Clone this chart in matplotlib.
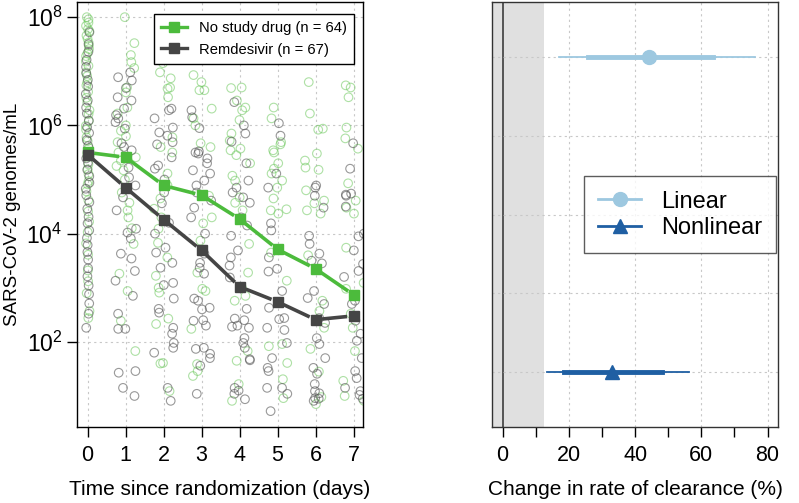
import matplotlib
matplotlib.use("Agg")
import matplotlib.pyplot as plt
from matplotlib.lines import Line2D
import numpy as np
import pandas as pd
import seaborn as sns

plt.rcParams['font.family'] = ['Liberation Sans', 'DejaVu Sans']
plt.rcParams['mathtext.fontset'] = 'custom'
plt.rcParams['mathtext.rm'] = 'Liberation Sans'

# ---- left panel: viral load (log10 genomes/mL) per day
days = [0, 1, 2, 3, 4, 5, 6, 7]

nodrug_pts = {
    0: [8.0, 7.96, 7.9, 7.84, 7.78, 7.74, 7.66, 7.6, 7.53, 7.47, 7.41, 7.33, 7.28, 7.18,
        7.1, 6.98, 6.91, 6.8, 6.74, 6.62, 6.51, 6.42, 6.28, 6.21, 6.08, 5.99, 5.92, 5.78,
        5.71, 5.58, 5.49, 5.42, 5.28, 5.19, 5.1, 4.97, 4.91, 4.78, 4.62, 4.41, 4.22, 4.03,
        3.82, 3.61, 3.32, 3.12, 2.9, 2.57, 2.44],
    1: [8.0, 7.52, 7.3, 7.17, 7.06, 6.70, 6.61, 6.33, 6.22, 6.0, 5.9, 5.8, 5.69, 5.5,
        5.41, 5.35, 5.25, 5.17, 5.0, 4.76, 4.57, 4.43, 4.3, 4.1, 3.81, 3.26, 2.94, 2.39,
        1.83],
    2: [7.15, 6.98, 6.87, 6.70, 6.68, 6.52, 5.78, 5.6, 5.5, 5.11, 4.89, 4.65, 4.46, 4.30,
        4.09, 3.83, 3.56, 3.22, 3.0, 2.91, 2.43, 2.33, 1.61, 1.6, 1.09],
    3: [6.93, 6.80, 6.65, 6.65, 6.31, 6.13, 6.0, 5.67, 5.6, 4.7, 4.19, 4.3, 3.87, 3.28,
        2.98, 2.94, 2.24, 1.59, 1.46, 1.37],
    4: [6.69, 6.7, 6.46, 6.33, 6.28, 6.1, 5.85, 5.72, 5.57, 5.54, 5.45, 5.3, 5.07, 4.98,
        4.67, 4.57, 4.43, 3.81, 3.28, 3.0, 2.85, 2.76, 1.83, 1.65, 1.22, 0.91],
    5: [6.33, 6.13, 5.69, 5.65, 5.54, 5.5, 5.30, 5.2, 5.11, 4.98, 4.85, 4.65, 4.43, 4.45,
        4.37, 3.65, 3.13, 1.96, 1.92, 1.61, 1.31, 0.96],
    6: [6.80, 6.22, 5.94, 5.92, 5.48, 5.35, 5.22, 5.18, 4.80, 4.61, 4.56, 4.43, 4.37, 3.6,
        2.76, 2.57, 2.26, 1.87, 1.45, 0.98, 0.85],
    7: [6.74, 6.7, 6.52, 5.96, 5.76, 5.57, 4.93, 4.61, 4.48, 4.37, 3.74, 3.09, 2.98, 2.52,
        2.26, 1.83, 1.28, 1.0, 0.91],
}

remdesivir_pts = {
    0: [7.72, 7.5, 7.36, 7.21, 7.08, 6.96, 6.84, 6.72, 6.58, 6.46, 6.33, 6.22, 6.09, 5.97,
        5.86, 5.73, 5.62, 5.51, 5.39, 5.31, 5.18, 5.06, 4.94, 4.83, 4.71, 4.58, 4.46, 4.31,
        4.19, 4.06, 3.92, 3.79, 3.66, 3.52, 3.36, 3.21, 3.04, 2.88, 2.71, 2.52, 2.26],
    1: [6.98, 6.89, 6.83, 6.69, 6.52, 6.46, 6.31, 6.19, 6.13, 6.06, 5.94, 5.67, 5.6, 5.54,
        5.22, 5.04, 4.89, 4.67, 4.43, 4.09, 4.02, 3.91, 3.63, 3.54, 3.31, 3.13, 2.85, 2.52,
        2.24, 2.24, 1.46, 1.43, 1.15, 1.0],
    2: [7.8, 6.31, 6.28, 6.13, 5.96, 5.87, 5.81, 5.69, 5.65, 5.41, 5.26, 5.2, 5.0, 4.76,
        4.56, 4.20, 4.0, 3.74, 3.65, 3.46, 3.37, 3.09, 3.05, 2.8, 2.61, 2.54, 2.26, 2.15,
        1.98, 1.89, 1.80, 1.15, 0.91],
    3: [6.28, 6.15, 5.95, 5.5, 5.52, 5.48, 5.39, 5.30, 5.17, 5.11, 4.98, 4.89, 4.76, 4.61,
        4.48, 4.30, 4.0, 3.63, 3.46, 3.26, 3.37, 2.76, 2.8, 2.63, 2.6, 2.39, 2.4, 2.30,
        1.89, 1.87, 1.78, 1.70, 1.56, 1.04],
    4: [6.43, 6.0, 5.85, 5.7, 5.3, 4.98, 4.85, 4.76, 4.67, 4.57, 4.30, 4.15, 3.96, 3.69,
        3.56, 3.41, 3.19, 2.61, 2.43, 2.4, 2.30, 2.28, 2.26, 2.07, 1.98, 1.89, 1.68, 1.66,
        1.15, 1.04, 0.94, 1.1],
    5: [6.04, 5.81, 5.11, 4.85, 4.19, 4.06, 3.56, 3.35, 3.3, 2.94, 2.63, 2.44, 2.42, 2.26,
        2.22, 1.98, 1.70, 1.52, 1.46, 1.15, 1.15, 1.04, 0.72],
    6: [4.89, 4.85, 4.70, 4.48, 3.96, 3.81, 3.63, 3.50, 3.45, 2.94, 2.81, 2.70, 2.44, 2.35,
        2.07, 1.96, 1.70, 1.52, 1.41, 1.22, 1.09, 0.96, 0.91, 0.95, 1.05],
    7: [5.67, 5.2, 4.74, 4.72, 4.7, 4.5, 4.0, 3.95, 3.69, 3.44, 3.31, 3.2, 2.76, 2.7, 2.39,
        2.15, 2.02, 1.70, 1.46, 1.33, 1.15, 1.09, 1.02, 0.95],
}

nodrug_mean = [5.50, 5.41, 4.89, 4.71, 4.27, 3.71, 3.35, 2.87]
remdesivir_mean = [5.46, 4.85, 4.26, 3.69, 3.02, 2.74, 2.41, 2.48]

labels_left = ['No study drug (n = 64)', 'Remdesivir (n = 67)']

# ---- right panel: change in rate of clearance (%)
models = ['Linear', 'Nonlinear']
estimate = [44.1, 32.9]
ci_inner_lo = [25.8, 18.4]
ci_inner_hi = [63.5, 48.0]
ci_outer_lo = [17.0, 13.3]
ci_outer_hi = [76.3, 56.4]


def to_frame(pts):
    rows = [(d, 10 ** v) for d, vals in pts.items() for v in vals]
    return pd.DataFrame(rows, columns=['day', 'load'])


def gapped_line(ax, x, y, gap_px, **kw):
    # line segments that stop short of each point (like R's type = "b")
    tr = ax.transData
    inv = tr.inverted()
    for i in range(len(x) - 1):
        p0 = tr.transform((x[i], y[i]))
        p1 = tr.transform((x[i + 1], y[i + 1]))
        u = (p1 - p0) / np.hypot(*(p1 - p0))
        a = inv.transform(p0 + u * gap_px)
        b = inv.transform(p1 - u * gap_px)
        ax.plot([a[0], b[0]], [a[1], b[1]], solid_capstyle='butt', **kw)


green = '#4cbb3c'
green_pt = '#6cc85c'
grey = '#454545'
grey_pt = '#555555'
light_blue = '#9dc8e0'
dark_blue = '#1f5fa3'
grid_kw = dict(color='#c8c8c8', linestyle=(0, (2, 3)), linewidth=0.8)

fig = plt.figure(figsize=(7.99, 5.03), dpi=100)
ax1 = fig.add_axes([0.0964, 0.151, 0.358, 0.845])
ax2 = fig.add_axes([0.616, 0.151, 0.358, 0.845])

# ---------------- left panel
ax1.set_yscale('log')
for pts, col, alpha in [(nodrug_pts, green_pt, 0.55), (remdesivir_pts, grey_pt, 0.6)]:
    df = to_frame(pts)
    d0 = df[df['day'] == 0]
    rest = df[df['day'] != 0]
    for sub, jit in [(d0, 0.05), (rest, 0.28)]:
        sns.stripplot(data=sub, x='day', y='load', native_scale=True, jitter=jit,
                      ax=ax1, color=col, facecolor='none', edgecolor=col,
                      linewidth=0.8, size=6.2, alpha=alpha, zorder=2)

ax1.set_xlim(-0.28, 7.25)
ax1.set_ylim(10 ** 0.426, 10 ** 8.28)

for mean, col, z in [(nodrug_mean, green, 4), (remdesivir_mean, grey, 5)]:
    yv = 10 ** np.array(mean)
    gapped_line(ax1, days, yv, 6.5, color=col, lw=2.6, zorder=z)
    ax1.plot(days, yv, ls='none', color=col, marker='s', ms=6.5, zorder=z)

h1 = [Line2D([], [], color=c, lw=2.4, marker='s', ms=6.5) for c in (green, grey)]

ax1.set_xticks(days)
ax1.set_xticklabels([str(d) for d in days])
ax1.set_yticks([1e2, 1e4, 1e6, 1e8])
ax1.set_yticklabels([r'$10^2$', r'$10^4$', r'$10^6$', r'$10^8$'])
ax1.yaxis.set_minor_locator(matplotlib.ticker.NullLocator())
ax1.tick_params(axis='both', labelsize=15.5, length=7, width=1, direction='out')
ax1.tick_params(axis='y', labelsize=16.5)
ax1.tick_params(axis='x', pad=6)
ax1.grid(True, **grid_kw)
ax1.set_axisbelow(True)
ax1.set_xlabel('Time since randomization (days)', fontsize=15, labelpad=10)
ax1.set_ylabel('SARS-CoV-2 genomes/mL', fontsize=13.5, labelpad=4)
leg1 = ax1.legend(h1, labels_left, loc='upper right', bbox_to_anchor=(0.97, 0.972),
                  fontsize=10.6, frameon=True, fancybox=False, edgecolor='black',
                  borderaxespad=0, handlelength=1.8, handletextpad=0.8, borderpad=0.5)
leg1.get_frame().set_linewidth(1)
leg1.get_frame().set_alpha(1)
for s in ax1.spines.values():
    s.set_linewidth(1)

# ---------------- right panel
ypos = [5, 1]
ax2.axvspan(-3.13, 12.5, color='#e0e0e0', zorder=0, lw=0)
ax2.axvline(0, color='#555555', lw=1.4, zorder=1)
markers = ['o', '^']
cols = [light_blue, dark_blue]
for i in range(len(models)):
    ax2.plot([ci_outer_lo[i], ci_outer_hi[i]], [ypos[i], ypos[i]], color=cols[i], lw=1.3, zorder=3)
    ax2.plot([ci_inner_lo[i], ci_inner_hi[i]], [ypos[i], ypos[i]], color=cols[i], lw=3.5, zorder=3)
    ax2.plot(estimate[i], ypos[i], marker=markers[i], color=cols[i], ms=10, zorder=4)

ax2.set_xlim(-3.13, 83.2)
ax2.set_ylim(0.3, 5.7)
ax2.set_xticks(np.arange(0, 81, 10))
ax2.set_xticklabels(['0', '', '20', '', '40', '', '60', '', '80'])
ax2.set_yticks([1, 2, 3, 4, 5])
ax2.tick_params(axis='y', length=0, labelleft=False)
ax2.tick_params(axis='x', labelsize=15.5, length=7, width=1, pad=6)
ax2.grid(False)
for x in [20, 40, 60, 80]:
    ax2.axvline(x, zorder=1, **grid_kw)
for y in [1, 2, 3, 4, 5]:
    ax2.axhline(y, zorder=1, **grid_kw)
ax2.set_xlabel('Change in rate of clearance (%)', fontsize=15, labelpad=10)
handles = [Line2D([], [], color=cols[i], marker=markers[i], lw=2, ms=10) for i in range(2)]
leg2 = ax2.legend(handles, models, loc='center left', bbox_to_anchor=(0.322, 0.499),
                  fontsize=17, frameon=True, fancybox=False, edgecolor='#333333',
                  borderaxespad=0, handlelength=1.8, handletextpad=0.85, borderpad=0.6,
                  labelspacing=0.2)
leg2.get_frame().set_linewidth(1)
for s in ax2.spines.values():
    s.set_linewidth(1)
    s.set_color('#333333')

fig.savefig('out.png', dpi=100)
